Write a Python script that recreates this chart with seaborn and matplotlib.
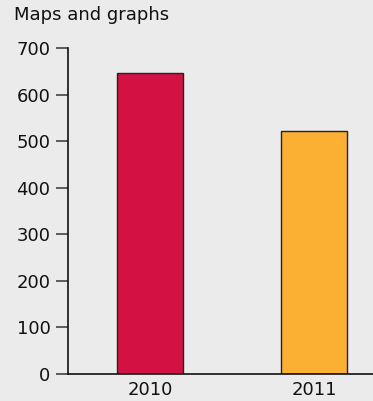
import matplotlib
matplotlib.use("Agg")
import matplotlib.pyplot as plt
import seaborn as sns
import pandas as pd

years = ["2010", "2011"]
values = [646, 521]
colors = ["#d31243", "#fbb034"]

sns.set_style("white")
plt.rcParams['font.family'] = ['DejaVu Sans']

bg = "#ebebeb"
fig = plt.figure(figsize=(3.73, 4.01), dpi=100, facecolor=bg)
ax = fig.add_axes([68 / 373, 27 / 401, (373 - 68) / 373, 326 / 401])
ax.set_facecolor(bg)

df = pd.DataFrame({"year": years, "value": values})
sns.barplot(data=df, x="year", y="value", hue="year", palette=colors,
            width=0.4, edgecolor="#222222", linewidth=1, legend=False,
            saturation=1, ax=ax)

ax.set_xlim(-0.5, 1.36)
ax.set_ylim(0, 700)
ax.set_yticks(range(0, 701, 100))
ax.set_xlabel("")
ax.set_ylabel("")

for s in ["top", "right"]:
    ax.spines[s].set_visible(False)
for s in ["left", "bottom"]:
    ax.spines[s].set_color("#111111")
    ax.spines[s].set_linewidth(1.2)

ax.tick_params(axis="y", left=True, length=8.6, width=1.2, color="#444444",
               labelsize=13, labelcolor="#111111", pad=4, direction="out")
ax.tick_params(axis="x", bottom=False, length=0, labelsize=13,
               labelcolor="#111111", pad=5)

fig.text(14 / 373, 1 - 15 / 401, "Maps and graphs", fontsize=13,
         color="#111111", va="center", ha="left")

fig.savefig("out.png", dpi=100, facecolor=bg)
